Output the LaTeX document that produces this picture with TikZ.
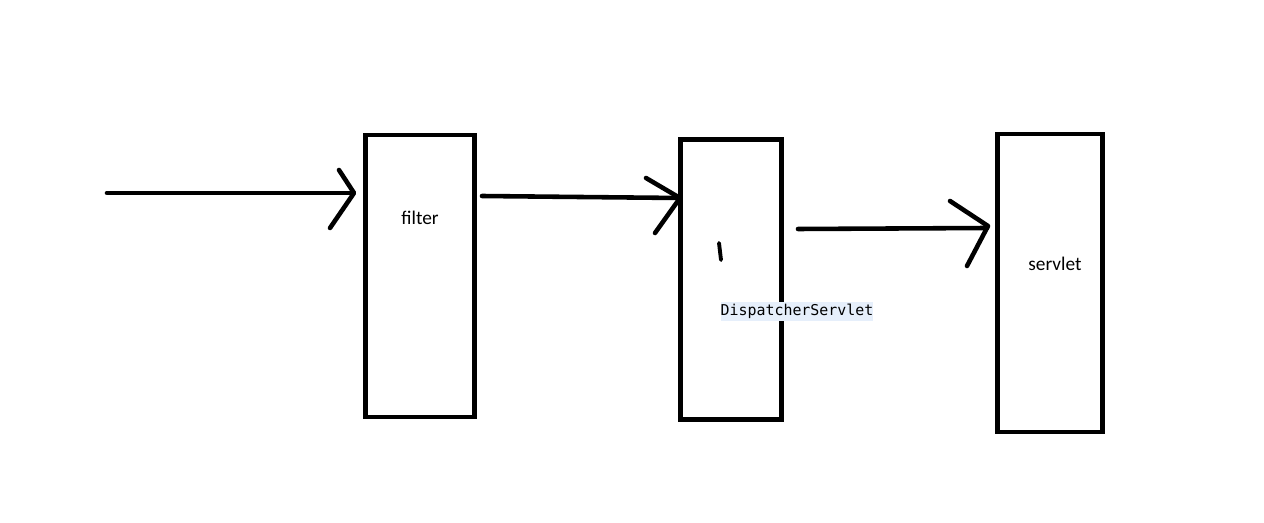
\documentclass[tikz,border=0pt]{standalone}
\usepackage{fontspec}
\setmainfont{Carlito}
\newfontfamily\codefont{DejaVu Sans Mono}
\usepackage{tikz}
\usetikzlibrary{positioning}
\definecolor{codebg}{HTML}{E6EFFB}

\begin{document}
\begin{tikzpicture}[x=0.02cm,y=-0.02cm,
		stroke/.style={black,line width=2.6pt,line cap=round,line join=round},
		box/.style={draw,black,line width=2.7pt,inner sep=0pt,outer sep=0pt},
		label/.style={font=\fontsize{11}{13}\selectfont}]
				\useasboundingbox[fill=white] (0,0) rectangle (1264,523);
				% the three blocks
				\node[box,minimum width=2.18cm,minimum height=5.64cm] (filter) at (420,276) {};
				\node[box,minimum width=2.02cm,minimum height=5.61cm] (dispatcher) at (731,279.5) {};
				\node[box,minimum width=2.1cm,minimum height=5.96cm] (servlet) at (1050,283) {};
				% texts
				\node[label] (filterlabel) at (420,218) {filter};
				\node[label] (servletlabel) at (1055,264) {servlet};
				\node[fill=codebg,inner xsep=0pt,inner ysep=0pt,minimum height=0.38cm,
					font=\codefont\fontsize{8.5}{10}\selectfont] (dispatcherlabel) at (797,311.5) {DispatcherServlet};
				% arrow into filter
				\coordinate (start) at (107,193);
				\coordinate (tipA) at (353,193);
				\draw[stroke] (start) -- (tipA);
				\draw[stroke] (339,170) -- (354,193) -- (330,228);
				% arrow filter -> DispatcherServlet
				\coordinate (outA) at (482,196);
				\coordinate (tipB) at (680,198);
				\draw[stroke] (outA) -- (580,197) -- (tipB);
				\draw[stroke] (646,178) -- (tipB) -- (655,233);
				% arrow DispatcherServlet -> servlet
				\coordinate (outB) at (798,229);
				\coordinate (tipC) at (987,228);
				\draw[stroke] (outB) -- (tipC);
				\draw[stroke] (950,201) -- (988,226) -- (967,266);
				% small mark
				\draw[stroke,line width=2.2pt] (719,243) -- (721,260);
			\end{tikzpicture}
\end{document}
